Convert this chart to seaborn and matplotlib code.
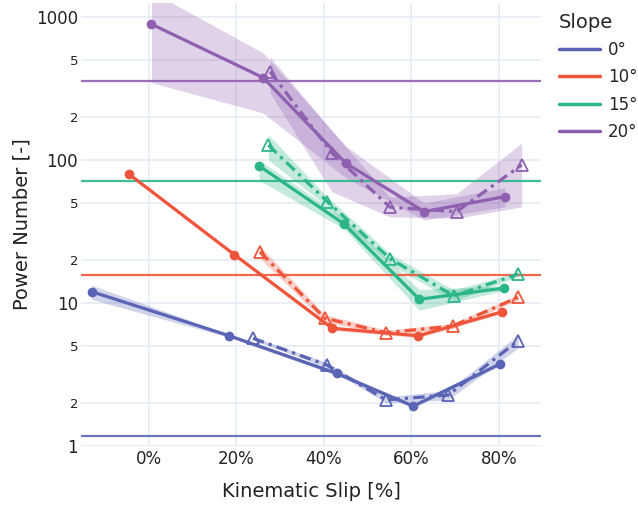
import matplotlib
matplotlib.use("Agg")
import matplotlib.pyplot as plt
import numpy as np
import pandas as pd
import seaborn as sns
from matplotlib.lines import Line2D
from matplotlib.ticker import FixedLocator, FixedFormatter, NullLocator, FuncFormatter

# ---------------- data ----------------
slopes = ["0°", "10°", "15°", "20°"]
colors = ["#5a64b4", "#ef553b", "#2bb68a", "#8f5fb0"]
ref_power = [1.18, 15.7, 71.3, 357]

# 0° slope
x0_a = [-13.1, 18.3, 42.9, 60.4, 80.2]
y0_a = [12.0, 5.91, 3.22, 1.90, 3.74]
lo0_a = [10.6, 5.75, 3.12, 1.85, 3.62]
hi0_a = [13.3, 6.05, 3.33, 1.97, 3.86]
x0_b = [23.8, 40.6, 54.2, 68.4, 84.4]
y0_b = [5.66, 3.69, 2.10, 2.27, 5.45]
lo0_b = [5.50, 3.55, 2.00, 2.10, 4.85]
hi0_b = [5.80, 3.85, 2.20, 2.45, 6.00]

# 10° slope
x10_a = [-4.6, 19.5, 41.9, 61.6, 80.8]
y10_a = [79.8, 21.8, 6.65, 5.90, 8.69]
lo10_a = [77.5, 21.2, 6.45, 5.72, 8.43]
hi10_a = [82.2, 22.4, 6.85, 6.08, 8.95]
x10_b = [25.4, 40.2, 54.3, 69.4, 84.4]
y10_b = [22.8, 7.82, 6.20, 6.90, 10.96]
lo10_b = [20.5, 7.40, 5.95, 6.60, 10.5]
hi10_b = [25.0, 8.30, 6.45, 7.20, 11.4]

# 15° slope
x15_a = [25.2, 44.6, 61.8, 81.1]
y15_a = [90.8, 35.7, 10.6, 12.7]
lo15_a = [72.0, 33.0, 8.9, 12.2]
hi15_a = [100.0, 39.0, 12.4, 13.2]
x15_b = [27.3, 40.8, 55.2, 69.7, 84.4]
y15_b = [127.0, 51.1, 20.3, 11.2, 15.9]
lo15_b = [100.0, 47.0, 18.5, 10.3, 15.3]
hi15_b = [150.0, 55.0, 22.0, 12.3, 16.5]

# 20° slope
x20_a = [0.6, 26.1, 45.0, 62.9, 81.4]
y20_a = [889.0, 376.0, 94.8, 43.5, 55.4]
lo20_a = [347.0, 213.0, 75.0, 38.0, 47.0]
hi20_a = [1500.0, 560.0, 125.0, 50.0, 64.0]
x20_b = [27.7, 41.8, 55.1, 70.3, 85.2]
y20_b = [414.0, 112.0, 46.7, 43.5, 92.3]
lo20_b = [294.0, 60.0, 40.0, 39.0, 47.0]
hi20_b = [525.0, 160.0, 55.0, 58.0, 131.0]

series_a = [(x0_a, y0_a, lo0_a, hi0_a), (x10_a, y10_a, lo10_a, hi10_a),
            (x15_a, y15_a, lo15_a, hi15_a), (x20_a, y20_a, lo20_a, hi20_a)]
series_b = [(x0_b, y0_b, lo0_b, hi0_b), (x10_b, y10_b, lo10_b, hi10_b),
            (x15_b, y15_b, lo15_b, hi15_b), (x20_b, y20_b, lo20_b, hi20_b)]

y_ticks = [1, 2, 5, 10, 20, 50, 100, 200, 500, 1000]
y_tick_labels = ["1", "2", "5", "10", "2", "5", "100", "2", "5", "1000"]
x_ticks = [0, 20, 40, 60, 80]

# ---------------- plot ----------------
sns.set_style("white")
plt.rcParams["font.family"] = ["DejaVu Sans"]

fig = plt.figure(figsize=(6.38, 5.08), dpi=100)
ax = fig.add_axes([81 / 638, 1 - 446 / 508, 460 / 638, 443 / 508])
ax.set_yscale("log")
ax.set_xlim(-15.5, 89.6)
ax.set_ylim(1.0, 1250)

grid_c = "#e8edf5"
for xt in x_ticks:
    ax.axvline(xt, color=grid_c, lw=1.3, zorder=0)
for yt in y_ticks:
    ax.axhline(yt, color=grid_c, lw=1.3, zorder=0)

for (xa, ya, la, ha), (xb, yb, lb, hb), c, s in zip(series_a, series_b, colors, slopes):
    ax.fill_between(xa, la, ha, color=c, alpha=0.28, lw=0, zorder=1)
    ax.fill_between(xb, lb, hb, color=c, alpha=0.28, lw=0, zorder=1)
    da = pd.DataFrame({"slip": xa, "power": ya})
    db = pd.DataFrame({"slip": xb, "power": yb})
    sns.lineplot(data=da, x="slip", y="power", color=c, ax=ax, marker="o",
                 markersize=7, markeredgewidth=0, lw=2.3, estimator=None,
                 sort=False, legend=False, zorder=3)
    sns.lineplot(data=db, x="slip", y="power", color=c, ax=ax, marker="^",
                 markersize=9, markerfacecolor="none", markeredgecolor=c,
                 markeredgewidth=1.3, lw=2.3, linestyle=(0, (3.6, 1.6, 1.0, 1.6)),
                 estimator=None, sort=False, legend=False, zorder=3)

for r, c in zip(ref_power, colors):
    ax.axhline(r, color=c, lw=1.6, alpha=0.9, zorder=2)

for sp in ax.spines.values():
    sp.set_visible(False)

ax.yaxis.set_major_locator(FixedLocator(y_ticks))
ax.yaxis.set_major_formatter(FixedFormatter(y_tick_labels))
ax.yaxis.set_minor_locator(NullLocator())
ax.set_xticks(x_ticks)
ax.xaxis.set_major_formatter(FuncFormatter(lambda v, p: f"{int(v)}%"))
ax.tick_params(axis="both", length=0, labelsize=12, colors="#222222")
ax.tick_params(axis="y", pad=2)
ax.tick_params(axis="x", pad=3)
for lab, txt in zip(ax.get_yticklabels(), y_tick_labels):
    if txt in ("2", "5"):
        lab.set_fontsize(9.5)

ax.set_xlabel("Kinematic Slip [%]", fontsize=14, color="#222222", labelpad=10)
ax.set_ylabel("Power Number [-]", fontsize=14, color="#222222", labelpad=3)

handles = [Line2D([0], [0], color=c, lw=2.5) for c in colors]
leg = fig.legend(handles, slopes, title="Slope", loc="upper left",
                 bbox_to_anchor=(552 / 638, 1 - 6 / 508), frameon=False,
                 fontsize=12, title_fontsize=14, handlelength=2.5,
                 handletextpad=0.45, labelspacing=0.56, borderaxespad=0)
leg._legend_box.align = "left"

fig.savefig("out.png", dpi=100)
